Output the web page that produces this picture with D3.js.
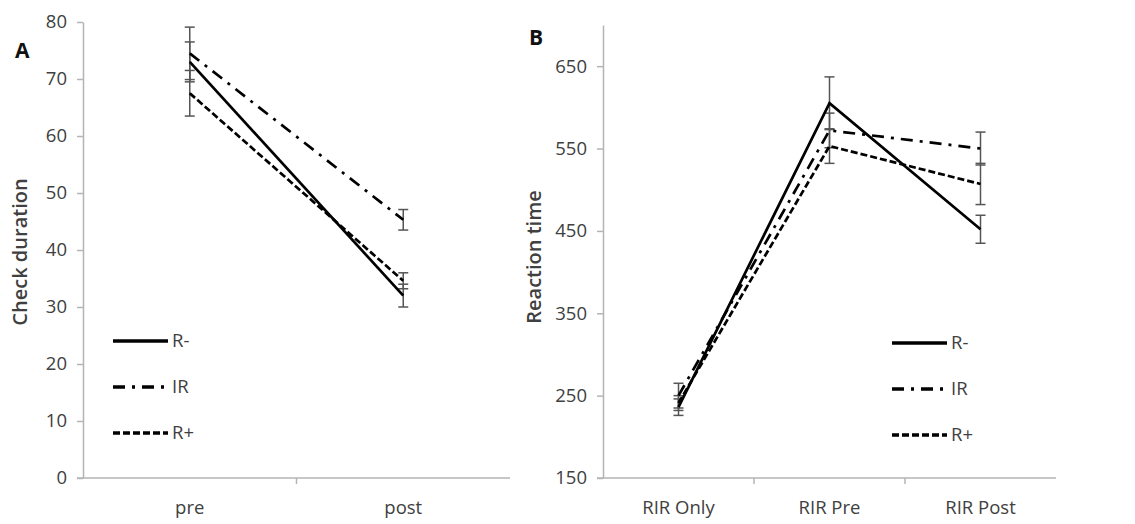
<!DOCTYPE html>
<html>
<head>
<meta charset="utf-8">
<script src="https://cdn.jsdelivr.net/npm/d3@7/dist/d3.min.js"></script>
<style>
  body { margin: 0; background: #fff; }
  svg text { font-family: "Open Sans", sans-serif; fill: #404040; }
  .axis path, .axis line { stroke: #b4b4b4; stroke-width: 1.5; }
  .axis text { font-size: 18.5px; }
</style>
</head>
<body>
<div id="chart"></div>
<script>
// Panel A: check duration
const aCategories = ["pre", "post"];
const aSeries = ["R-", "IR", "R+"];
const aValues = {
  "R-": [73, 32],
  "IR": [74.5, 45.3],
  "R+": [67.5, 34.6]
};
const aErrors = {
  "R-": [3.5, 2],
  "IR": [4.6, 1.8],
  "R+": [4, 1.4]
};
const aTicks = [0, 10, 20, 30, 40, 50, 60, 70, 80];

// Panel B: reaction time
const bCategories = ["RIR Only", "RIR Pre", "RIR Post"];
const bSeries = ["R-", "IR", "R+"];
const bValues = {
  "R-": [236, 605, 452],
  "IR": [250, 572, 550],
  "R+": [241, 553, 507]
};
const bErrors = {
  "R-": [10, 32, 17],
  "IR": [15, 21, 20],
  "R+": [9, 21, 25]
};
const bTicks = [150, 250, 350, 450, 550, 650];

// line styles per group
const dashes = { "R-": null, "IR": "12,7,3,7", "R+": "7,3" };

const svg = d3.select("#chart").append("svg")
  .attr("width", 1135)
  .attr("height", 524);

function panel(opts) {
  const g = svg.append("g");

  const x = d3.scaleBand().domain(opts.categories).range([opts.left, opts.right]);
  const y = d3.scaleLinear().domain(opts.domain).range([478, opts.top]);

  g.append("g")
    .attr("class", "axis")
    .attr("transform", "translate(0,478)")
    .call(d3.axisBottom(x).tickSize(0).tickPadding(23).tickSizeOuter(0))
    .call(a => a.select(".domain").attr("d", `M${opts.left - 6},0H${opts.right}`));

  // category separator ticks like excel
  g.append("g")
    .selectAll("line")
    .data(opts.categories.slice(1))
    .join("line")
    .attr("x1", d => x(d)).attr("x2", d => x(d))
    .attr("y1", 478).attr("y2", 484)
    .attr("stroke", "#b4b4b4").attr("stroke-width", 1.5);

  g.append("g")
    .attr("class", "axis")
    .attr("transform", `translate(${opts.left},0)`)
    .call(d3.axisLeft(y).tickValues(opts.ticks).tickSize(6).tickPadding(10).tickSizeOuter(0));

  const cx = d => x(d) + x.bandwidth() / 2;

  // error bars
  opts.series.forEach(s => {
    const eb = g.append("g").attr("stroke", "#555").attr("stroke-width", 1.5);
    opts.categories.forEach((c, i) => {
      const v = opts.values[s][i], e = opts.errors[s][i];
      eb.append("line")
        .attr("x1", cx(c)).attr("x2", cx(c))
        .attr("y1", y(v + e)).attr("y2", y(v - e));
      [v + e, v - e].forEach(t => {
        eb.append("line")
          .attr("x1", cx(c) - 5).attr("x2", cx(c) + 5)
          .attr("y1", y(t)).attr("y2", y(t));
      });
    });
  });

  const line = d3.line().x(d => cx(d.c)).y(d => y(d.v));
  opts.series.forEach(s => {
    g.append("path")
      .datum(opts.categories.map((c, i) => ({ c: c, v: opts.values[s][i] })))
      .attr("d", line)
      .attr("fill", "none")
      .attr("stroke", "#000")
      .attr("stroke-width", 2.7)
      .attr("stroke-dasharray", dashes[s]);
  });

  // legend
  const lg = g.append("g").attr("transform", `translate(${opts.legendX},${opts.legendY})`);
  opts.series.forEach((s, i) => {
    const row = lg.append("g").attr("transform", `translate(0,${i * 46})`);
    row.append("line")
      .attr("x1", 0).attr("x2", 55)
      .attr("stroke", "#000").attr("stroke-width", 3.5)
      .attr("stroke-dasharray", dashes[s]);
    row.append("text")
      .attr("x", 59).attr("dy", "0.35em")
      .style("font-size", "18.5px")
      .text(s);
  });

  // y label
  g.append("text")
    .attr("transform", `translate(${opts.labelX},${opts.labelY}) rotate(-90)`)
    .attr("text-anchor", "middle")
    .attr("dy", "0.35em")
    .style("font-size", "20px")
    .style("font-weight", 600)
    .text(opts.label);

  // panel letter
  g.append("text")
    .attr("x", opts.letterX).attr("y", opts.letterY)
    .style("font-size", "21px")
    .style("font-weight", 700)
    .style("fill", "#111")
    .text(opts.letter);
}

panel({
  categories: aCategories, series: aSeries, values: aValues, errors: aErrors,
  ticks: aTicks, domain: [0, 80], top: 22, left: 83, right: 510,
  legendX: 113, legendY: 341, label: "Check duration", labelX: 20, labelY: 252,
  letter: "A", letterX: 15, letterY: 58
});

panel({
  categories: bCategories, series: bSeries, values: bValues, errors: bErrors,
  ticks: bTicks, domain: [150, 700], top: 25, left: 603, right: 1056,
  legendX: 892, legendY: 343, label: "Reaction time", labelX: 534, labelY: 257,
  letter: "B", letterX: 529, letterY: 45
});
</script>
</body>
</html>
